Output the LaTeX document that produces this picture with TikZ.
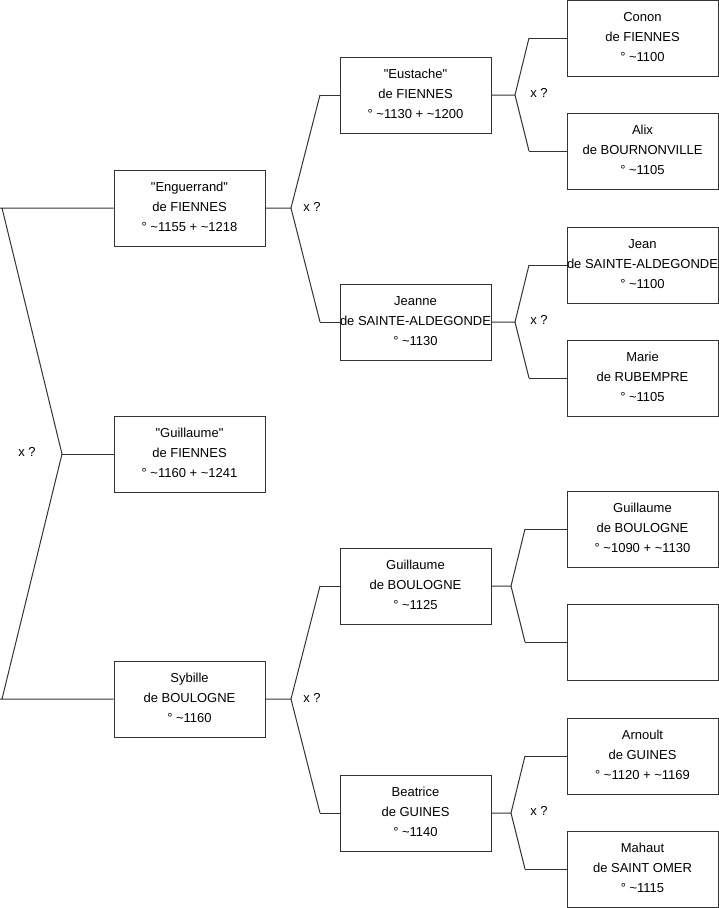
\documentclass[tikz,border=0pt]{standalone}
\usepackage{fontspec}
\setmainfont{Liberation Sans}
\newfontfamily\lsans{Liberation Sans}
\definecolor{linec}{RGB}{51,51,51}
\newcommand{\dq}{\char34\relax}
\begin{document}
\begin{tikzpicture}[x=1pt,y=-1pt,
  pbox/.style={draw=linec, line width=1pt, minimum width=151pt, minimum height=76pt,
    align=center, inner sep=0pt, text depth=2pt, font=\lsans\fontsize{13}{20}\selectfont, text=black},
  link/.style={draw=linec, line width=1pt},
  lbl/.style={font=\lsans\fontsize{13}{14}\selectfont, inner sep=0pt}]
\useasboundingbox (0,0) rectangle (719,908);
% column 1
\node[pbox] (eng) at (189.5,208) {\dq Enguerrand\dq\\de FIENNES\\° \textasciitilde1155 + \textasciitilde1218};
\node[pbox] (gui) at (189.5,454) {\dq Guillaume\dq\\de FIENNES\\° \textasciitilde1160 + \textasciitilde1241};
\node[pbox] (syb) at (189.5,699) {Sybille\\de BOULOGNE\\° \textasciitilde1160};
% column 2
\node[pbox] (eus) at (415.5,95) {\dq Eustache\dq\\de FIENNES\\° \textasciitilde1130 + \textasciitilde1200};
\node[pbox] (jea) at (415.5,322) {Jeanne\\de SAINTE-ALDEGONDE\\° \textasciitilde1130};
\node[pbox] (gbo) at (415.5,586) {Guillaume\\de BOULOGNE\\° \textasciitilde1125};
\node[pbox] (bea) at (415.5,813) {Beatrice\\de GUINES\\° \textasciitilde1140};
% column 3
\node[pbox] (con) at (642.5,38) {Conon\\de FIENNES\\° \textasciitilde1100};
\node[pbox] (ali) at (642.5,151) {Alix\\de BOURNONVILLE\\° \textasciitilde1105};
\node[pbox] (jen) at (642.5,265) {Jean\\de SAINTE-ALDEGONDE\\° \textasciitilde1100};
\node[pbox] (mar) at (642.5,378) {Marie\\de RUBEMPRE\\° \textasciitilde1105};
\node[pbox] (gbb) at (642.5,529) {Guillaume\\de BOULOGNE\\° \textasciitilde1090 + \textasciitilde1130};
\node[pbox] (emp) at (642.5,642) {};
\node[pbox] (arn) at (642.5,756) {Arnoult\\de GUINES\\° \textasciitilde1120 + \textasciitilde1169};
\node[pbox] (mah) at (642.5,869) {Mahaut\\de SAINT OMER\\° \textasciitilde1115};
% fork coordinates
\coordinate (f0) at (62,454);
\coordinate (f0a) at (2,208);
\coordinate (f0b) at (2,699);
\coordinate (f0s) at (0,208);
\coordinate (f0t) at (0,699);
\coordinate (f1) at (291,208);
\coordinate (f1a) at (320,95);
\coordinate (f1b) at (320,322);
\coordinate (f2) at (291,699);
\coordinate (f2a) at (320,586);
\coordinate (f2b) at (320,813);
\coordinate (f3) at (515,95);
\coordinate (f3a) at (529,38);
\coordinate (f3b) at (529,151);
\coordinate (f4) at (515,322);
\coordinate (f4a) at (529,265);
\coordinate (f4b) at (529,378);
\coordinate (f5) at (511,586);
\coordinate (f5a) at (525,529);
\coordinate (f5b) at (525,642);
\coordinate (f6) at (511,813);
\coordinate (f6a) at (525,756);
\coordinate (f6b) at (525,869);
% connectors
\draw[link] (gui.west) -- (f0);
\draw[link] (eng.west) -- (f0s) (f0a) -- (f0) -- (f0b) (f0t) -- (syb.west);
\draw[link] (eng.east) -- (f1) (f1a) -- (f1) -- (f1b);
\draw[link] (f1a) -- (eus.west);
\draw[link] (f1b) -- (jea.west);
\draw[link] (syb.east) -- (f2) (f2a) -- (f2) -- (f2b);
\draw[link] (f2a) -- (gbo.west);
\draw[link] (f2b) -- (bea.west);
\draw[link] (eus.east) -- (f3) (f3a) -- (f3) -- (f3b);
\draw[link] (f3a) -- (con.west);
\draw[link] (f3b) -- (ali.west);
\draw[link] (jea.east) -- (f4) (f4a) -- (f4) -- (f4b);
\draw[link] (f4a) -- (jen.west);
\draw[link] (f4b) -- (mar.west);
\draw[link] (gbo.east) -- (f5) (f5a) -- (f5) -- (f5b);
\draw[link] (f5a) -- (gbb.west);
\draw[link] (f5b) -- (emp.west);
\draw[link] (bea.east) -- (f6) (f6a) -- (f6) -- (f6b);
\draw[link] (f6a) -- (arn.west);
\draw[link] (f6b) -- (mah.west);
% labels
\node[lbl] (x0) at (27,452) {x ?};
\node[lbl] (x1) at (312,207) {x ?};
\node[lbl] (x2) at (312,698) {x ?};
\node[lbl] (x3) at (539,93) {x ?};
\node[lbl] (x4) at (539,320) {x ?};
\node[lbl] (x6) at (539,811) {x ?};
\end{tikzpicture}
\end{document}
